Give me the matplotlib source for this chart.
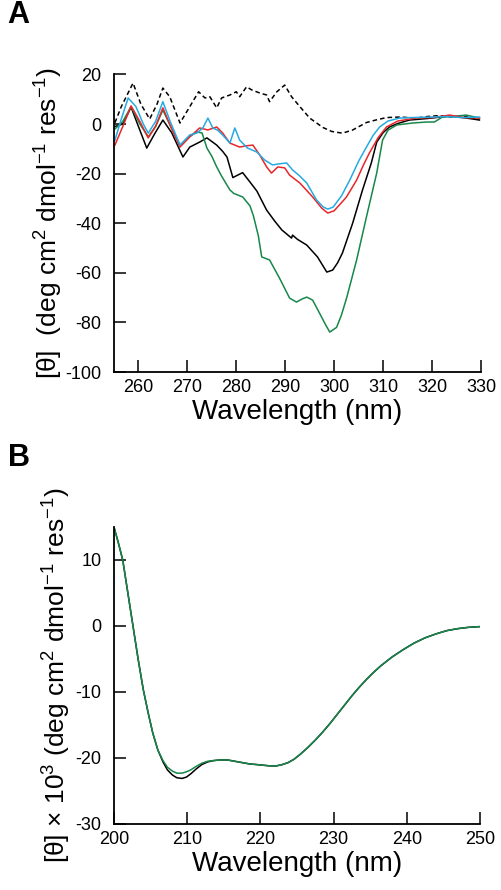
import numpy as np
import matplotlib.pyplot as plt

plt.rcParams['font.family'] = ['Liberation Sans', 'DejaVu Sans']
plt.rcParams['mathtext.fontset'] = 'custom'
plt.rcParams['mathtext.rm'] = 'Liberation Sans'
plt.rcParams['mathtext.it'] = 'Liberation Sans'
plt.rcParams['axes.unicode_minus'] = False

# panel A: near-UV CD, wavelength (nm) vs [theta]
wl_dash = [255.2, 256.5, 258.9, 260.5, 262.3, 263.8, 265.0, 266.4, 268.5, 270.5, 272.3, 273.6,
           274.6, 276.0, 277.0, 278.7, 280.0, 280.7, 282.1, 283.2, 284.8, 286.2, 286.8, 288.3,
           289.9, 291.3, 293.0, 295.0, 297.7, 299.5, 301.7, 303.8, 306.6, 308.5, 310.7, 313.4,
           316.8, 319.0, 321.5, 324.0, 326.5, 329.7]
th_dash = [0.5, 7, 16.5, 8, 2, 8, 14.5, 11, 0.4, 7, 13, 10.5,
           11, 6.5, 10.5, 11.7, 13, 11, 15, 13.7, 12.5, 11.7, 9, 13,
           15.7, 11, 7, 2.4, -1.4, -3.0, -3.7, -2.4, 0.6, 1.6, 2.6, 2.8,
           2.4, 3.0, 3.4, 2.8, 3.2, 1.8]

wl_black = [255.2, 256.8, 258.5, 260.2, 261.7, 263.3, 265.0, 266.8, 269.1, 270.5, 272.5, 274.0,
            276.0, 277.2, 278.1, 279.3, 281.3, 282.8, 284.2, 286.2, 287.8, 289.3, 291.3, 291.5,
            292.5, 294.4, 296.6, 298.5, 299.7, 300.7, 301.7, 303.8, 305.8, 307.6, 308.7, 310.0,
            311.3, 313.0, 315.4, 319.0, 323.6, 327.0, 329.7]
th_black = [-1, 0, 6.8, -2, -9.7, -4, 1.6, -3.5, -13.3, -9.3, -7.3, -5.6,
            -8.5, -11, -13.3, -21.6, -19.6, -23.4, -27, -34.7, -39, -42.7, -46, -44.8,
            -46.5, -48.8, -53.6, -59.7, -58.9, -56, -52, -39.9, -26.6, -15.7, -7.3, -3.5,
            -1.2, 0.2, 1.6, 2.2, 3.2, 2.4, 1.6]

wl_green = [255.2, 256.8, 258.5, 260.3, 262.0, 263.5, 265.0, 266.6, 268.5, 270.5, 272.0, 273.0,
            274.0, 275.0, 276.0, 277.0, 278.7, 279.5, 281.3, 282.8, 283.5, 284.5, 285.2, 286.8,
            288.8, 290.9, 292.3, 293.5, 294.4, 295.6, 297.0, 298.0, 299.1, 300.5, 301.5, 302.6,
            304.6, 306.6, 308.7, 309.9, 311.0, 312.8, 316.0, 318.9, 320.5, 322.1, 325.0, 327.0, 329.7]
th_green = [-2, 1, 7, 0, -5.2, -1, 5.6, -1, -8.5, -5, -3.2, -3.6,
            -9.7, -13, -17.3, -21, -26.6, -28, -29.4, -33, -37, -45, -53.6, -54.8,
            -62, -70.2, -71.8, -70.5, -69.8, -71, -76.2, -80, -83.9, -82, -77, -69.8,
            -54.8, -37.5, -19.8, -6.5, -2.5, -0.4, 0.4, 0.8, 0.8, 2.8, 3.2, 3.6, 2.4]

wl_red = [255.2, 256.8, 258.5, 260.3, 262.0, 263.5, 265.0, 266.6, 268.5, 270.5, 272.5, 274.2,
          276.0, 277.2, 278.7, 280.7, 282.0, 283.4, 284.8, 286.2, 287.2, 288.5, 289.9, 290.9,
          293.0, 295.6, 297.5, 298.7, 300.0, 302.5, 304.6, 306.0, 307.2, 309.0, 310.7, 313.0,
          316.8, 320.0, 323.6, 326.5, 329.7]
th_red = [-8.5, -1, 7.3, 1, -5.6, -1, 6.5, -1, -9.3, -5.2, -1.6, -2.4,
          -1.2, -3.6, -7.7, -9.3, -8.8, -8.5, -12.5, -17.3, -19.8, -17.3, -17.7, -20.6,
          -23.8, -29.4, -34, -35.9, -35, -29.5, -22.6, -16.5, -11.7, -5.5, -1.2, 1.2,
          2.4, 2.6, 3.6, 2.6, 2.4]

wl_blue = [255.2, 256.5, 257.9, 259.5, 261.0, 262.0, 263.5, 265.0, 266.5, 268.5, 270.5, 272.0,
           273.2, 274.2, 275.2, 276.2, 277.2, 278.7, 279.7, 280.7, 282.3, 284.2, 285.8, 287.4,
           289.0, 290.3, 291.5, 293.0, 294.4, 296.4, 297.8, 298.7, 299.8, 301.5, 303.2, 305.0,
           306.6, 308.0, 309.3, 311.0, 313.4, 316.0, 320.0, 323.0, 326.0, 329.7]
th_blue = [-6.5, 2, 10.5, 7, 0, -3.7, 1, 9, 1, -8.5, -4.4, -3.6,
           -1.5, 2.4, -1.6, -2.5, -4.4, -7.7, -1.6, -6.5, -9.7, -11.3, -14.5, -16.5,
           -16, -15.7, -18.5, -21, -23.8, -30.6, -33.5, -34.3, -33.5, -29, -22.6, -15,
           -9.3, -4.5, -1.2, 1.2, 2.4, 2.6, 2.8, 3.0, 2.6, 2.8]

# panel B: far-UV CD
wl_b = [200, 200.6, 201.2, 201.9, 202.6, 203.3, 204.0, 204.7, 205.3, 206.0, 206.7, 207.3,
        208.0, 208.6, 209.3, 209.9, 210.5, 211.2, 212.0, 212.8, 213.6, 214.5, 215.5, 216.5,
        217.5, 218.5, 219.5, 220.4, 221.3, 222.2, 223.0, 223.8, 224.6, 225.5, 226.5, 227.5,
        228.5, 229.5, 230.5, 231.5, 232.5, 233.5, 234.5, 235.5, 236.5, 238.0, 239.5, 241.0,
        242.5, 244.0, 245.5, 247.0, 248.5, 250.0]
th_b_black = [15, 12.6, 10, 5, 0, -5, -9.6, -13.3, -16.2, -18.8, -20.6, -21.8,
              -22.6, -23.0, -23.1, -22.9, -22.4, -21.7, -21.0, -20.6, -20.4, -20.3, -20.3, -20.5,
              -20.7, -20.9, -21.0, -21.1, -21.2, -21.2, -21.0, -20.7, -20.2, -19.4, -18.4, -17.3,
              -16.1, -14.8, -13.4, -12.0, -10.6, -9.3, -8.1, -7.0, -6.0, -4.7, -3.6, -2.6,
              -1.8, -1.2, -0.7, -0.4, -0.2, -0.1]
th_b_green = [15, 12.6, 10, 5, 0, -5, -9.6, -13.3, -16.2, -18.8, -20.4, -21.4,
              -22.0, -22.3, -22.3, -22.1, -21.8, -21.3, -20.8, -20.5, -20.4, -20.3, -20.3, -20.5,
              -20.7, -20.9, -21.0, -21.1, -21.2, -21.2, -21.0, -20.7, -20.2, -19.4, -18.4, -17.3,
              -16.1, -14.8, -13.4, -12.0, -10.6, -9.3, -8.1, -7.0, -6.0, -4.7, -3.6, -2.6,
              -1.8, -1.2, -0.7, -0.4, -0.2, -0.1]

c_red = '#e8262a'
c_blue = '#27aae1'
c_green = '#17874a'

fig = plt.figure(figsize=(5.02, 8.9), dpi=100)
axA = fig.add_axes([0.227, 0.582, 0.731, 0.3344])
axB = fig.add_axes([0.227, 0.0742, 0.729, 0.3337])

lw = 1.1
axA.plot(wl_dash, th_dash, color='black', lw=lw, ls=(0, (3, 2)))
axA.plot(wl_black, th_black, color='black', lw=lw)
axA.plot(wl_green, th_green, color=c_green, lw=lw)
axA.plot(wl_red, th_red, color=c_red, lw=lw)
axA.plot(wl_blue, th_blue, color=c_blue, lw=lw)
axA.set_xlim(255, 330)
axA.set_ylim(-100, 20)
axA.set_xticks(np.arange(260, 331, 10))
axA.set_yticks(np.arange(-100, 21, 20))
axA.set_xlabel('Wavelength (nm)', fontsize=20, labelpad=2)
axA.set_ylabel(r'[θ]  (deg cm$^2$ dmol$^{-1}$ res$^{-1}$)', fontsize=19, labelpad=0)

axB.plot(wl_b, th_b_black, color='black', lw=lw)
axB.plot(wl_b, th_b_green, color=c_green, lw=lw)
axB.set_xlim(200, 250)
axB.set_ylim(-30, 15)
axB.set_xticks(np.arange(200, 251, 10))
axB.set_yticks(np.arange(-30, 11, 10))
axB.set_xlabel('Wavelength (nm)', fontsize=20, labelpad=2)
axB.set_ylabel(r'[θ] × 10$^3$ (deg cm$^2$ dmol$^{-1}$ res$^{-1}$)', fontsize=19, labelpad=2)

for ax in (axA, axB):
    ax.spines['top'].set_visible(False)
    ax.spines['right'].set_visible(False)
    ax.spines['left'].set_linewidth(1.3)
    ax.spines['bottom'].set_linewidth(1.3)
    ax.tick_params(direction='in', length=8.5, width=1.1, labelsize=13)
    ax.tick_params(axis='y', pad=9)
    ax.tick_params(axis='x', pad=5)

fig.text(0.014, 0.966, 'A', fontsize=22, fontweight='bold', va='bottom')
fig.text(0.016, 0.468, 'B', fontsize=22, fontweight='bold', va='bottom')

fig.savefig('out.png', dpi=100)
